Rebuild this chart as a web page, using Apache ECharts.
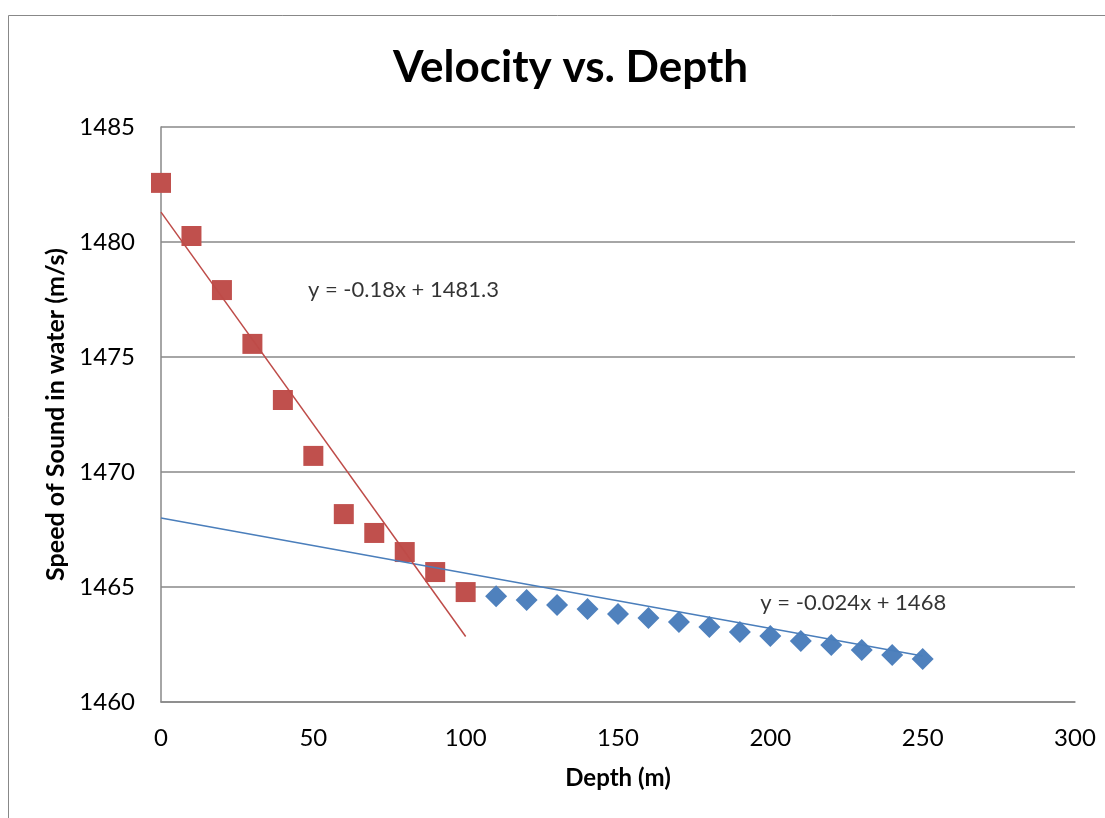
<!DOCTYPE html>
<html>
<head>
<meta charset="utf-8">
<script src="https://cdn.jsdelivr.net/npm/echarts@6/dist/echarts.min.js"></script>
<style>html,body{margin:0;padding:0;background:#fff;}#c{width:1105px;height:818px;}</style>
</head>
<body>
<div id="c"></div>
<script>
const shallowDepth = [0, 10, 20, 30, 40, 50, 60, 70, 80, 90, 100];
const shallowSpeed = [1482.57, 1480.26, 1477.91, 1475.57, 1473.13, 1470.7, 1468.17, 1467.35, 1466.52, 1465.65, 1464.78];
const deepDepth = [110, 120, 130, 140, 150, 160, 170, 180, 190, 200, 210, 220, 230, 240, 250];
const deepSpeed = [1464.6, 1464.43, 1464.22, 1464.04, 1463.83, 1463.65, 1463.48, 1463.26, 1463.04, 1462.87, 1462.65, 1462.48, 1462.26, 1462.04, 1461.87];
const shallowTrend = [[0, 1481.3], [100, 1462.85]];
const deepTrend = [[0, 1468.0], [250, 1462.0]];
const shallowEq = 'y = -0.18x + 1481.3';
const deepEq = 'y = -0.024x + 1468';
const shallowEqAt = [47.9, 1477.9];
const deepEqAt = [196.4, 1464.3];
const titleText = 'Velocity vs. Depth';
const xName = 'Depth (m)';
const yName = 'Speed of Sound in water (m/s)';

const FONT = 'Lato, "Open Sans", sans-serif';
const chart = echarts.init(document.getElementById('c'));
const zip = (a, b) => a.map((v, i) => [v, b[i]]);
const eqLabel = text => ({
  show: true, formatter: text, position: 'right', distance: 0,
  fontFamily: FONT, fontSize: 22, color: '#000'
});
chart.setOption({
  animation: false,
  backgroundColor: '#fff',
  title: {
    text: titleText, left: 388, top: 41,
    textStyle: { fontFamily: FONT, fontWeight: 'bold', fontSize: 44, color: '#000' }
  },
  graphic: [{
    type: 'rect', shape: { x: 8.5, y: 15.5, width: 1200, height: 900 },
    style: { fill: 'none', stroke: '#888', lineWidth: 1 }, silent: true
  }],
  grid: { left: 161, top: 127, right: 30, bottom: 116 },
  xAxis: {
    type: 'value', min: 0, max: 300, interval: 50,
    name: xName, nameLocation: 'middle', nameGap: 64,
    nameTextStyle: { fontFamily: FONT, fontWeight: 'bold', fontSize: 24, color: '#000' },
    axisLine: { show: true, lineStyle: { color: '#888', width: 1.5 } },
    axisTick: { show: false },
    axisLabel: { fontFamily: FONT, fontSize: 24, color: '#000', margin: 24 },
    splitLine: { show: false }
  },
  yAxis: {
    type: 'value', min: 1460, max: 1485, interval: 5,
    name: yName, nameLocation: 'middle', nameGap: 88,
    nameTextStyle: { fontFamily: FONT, fontWeight: 'bold', fontSize: 25, color: '#000' },
    axisLine: { show: true, lineStyle: { color: '#888', width: 1.5 } },
    axisTick: { show: false },
    axisLabel: { fontFamily: FONT, fontSize: 24, color: '#000', margin: 26, formatter: v => String(v) },
    splitLine: { show: true, lineStyle: { color: '#888', width: 1.5 } }
  },
  series: [
    {
      type: 'line', data: deepTrend, symbol: 'none', z: 3,
      lineStyle: { color: '#4a7ebb', width: 1.5 }
    },
    {
      type: 'line', data: shallowTrend, symbol: 'none', z: 3,
      lineStyle: { color: '#be4b48', width: 1.5 }
    },
    {
      type: 'scatter', data: zip(shallowDepth, shallowSpeed), symbol: 'rect', symbolSize: 20, z: 2,
      itemStyle: { color: '#c0504d', opacity: 1 }
    },
    {
      type: 'scatter', data: zip(deepDepth, deepSpeed), symbol: 'diamond', symbolSize: [22, 22], z: 2,
      itemStyle: { color: '#4f81bd', opacity: 1 }
    },
    {
      type: 'scatter', data: [shallowEqAt], symbol: 'circle', symbolSize: 2, silent: true, z: 5,
      itemStyle: { color: 'rgba(0,0,0,0)' },
      label: eqLabel(shallowEq), labelLayout: { hideOverlap: false }
    },
    {
      type: 'scatter', data: [deepEqAt], symbol: 'circle', symbolSize: 2, silent: true, z: 5,
      itemStyle: { color: 'rgba(0,0,0,0)' },
      label: eqLabel(deepEq), labelLayout: { hideOverlap: false }
    }
  ]
});
</script>
</body>
</html>
